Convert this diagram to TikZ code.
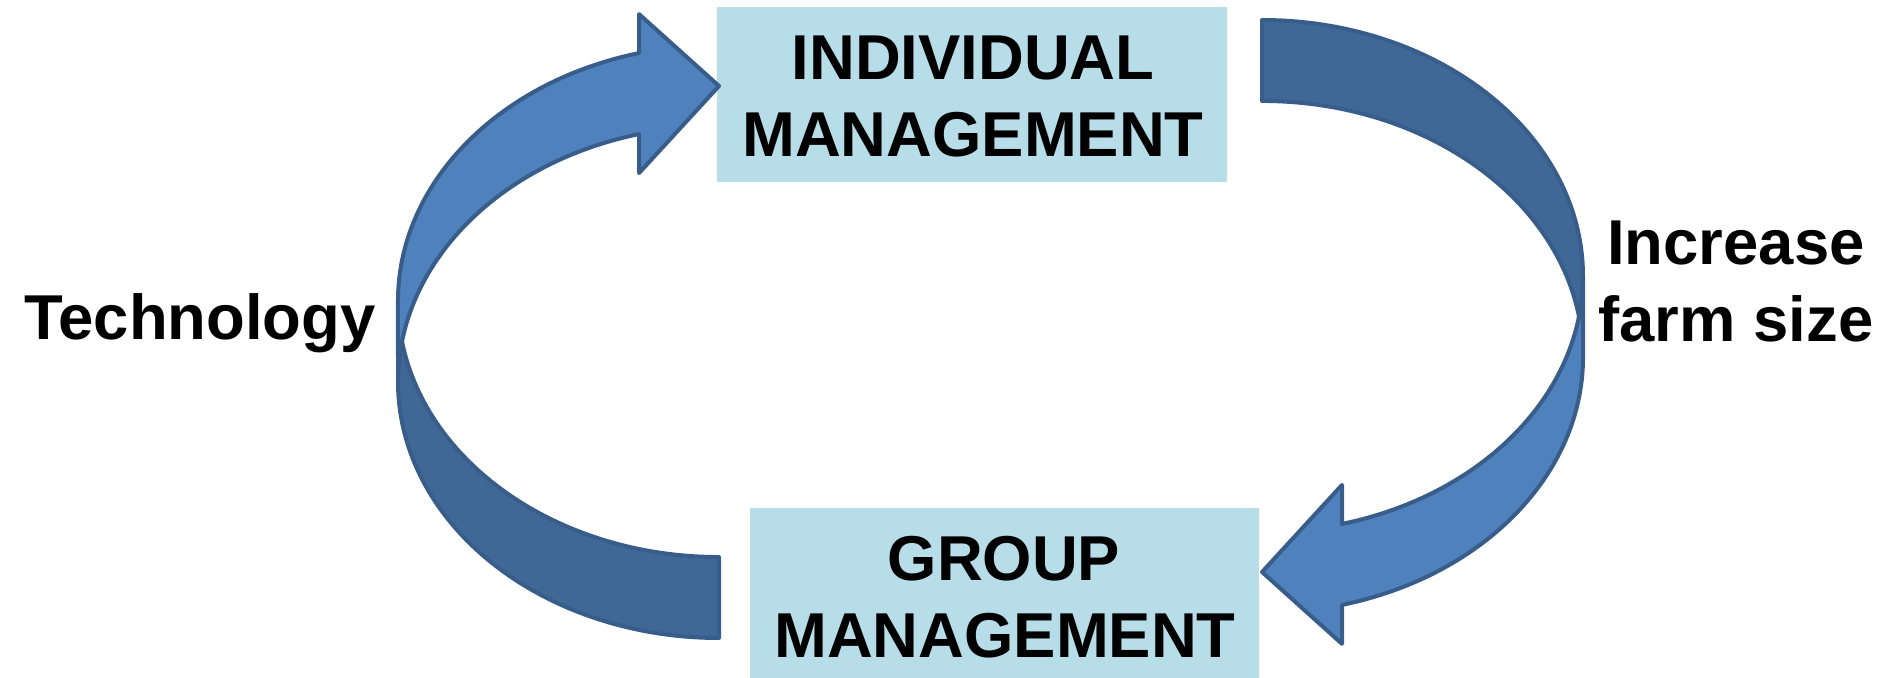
\documentclass[tikz,border=0pt]{standalone}
\usepackage{fontspec}
\setmainfont{Liberation Sans}
\definecolor{boxblue}{HTML}{B7DDE8}
\definecolor{arrowlight}{HTML}{4F81BD}
\definecolor{arrowdark}{HTML}{406896}
\definecolor{arrowline}{HTML}{385D8A}
\begin{document}
\begin{tikzpicture}[x=0.5pt,y=-0.5pt,
  box/.style={fill=boxblue, draw=none, inner sep=0pt},
  boxtext/.style={font=\bfseries\fontsize{31.7pt}{38.5pt}\selectfont, anchor=base, inner sep=0pt},
  labeltext/.style={font=\bfseries\fontsize{31.7pt}{38.5pt}\selectfont, anchor=base, inner sep=0pt},
  outline/.style={draw=arrowline, line width=2pt, line join=round}]
\useasboundingbox (0,0) rectangle (1888,678);
% boxes
\node[box, minimum width=255pt, minimum height=87.5pt] (indbox) at (972,94.5) {};
\node[box, minimum width=254.5pt, minimum height=85pt] (grpbox) at (1004.5,593) {};
% curved arrows
\foreach \r in {0,180}{
\begin{scope}[rotate around={\r:(990.5,329)}]
  \fill[arrowlight] (398,382) arc[start angle=180, end angle=255.57, x radius=321, y radius=256]
     -- (639,173.1) -- (719,86) -- (639,14.1) -- (639,53.1)
     arc[start angle=255.57, end angle=180, x radius=321, y radius=256] -- cycle;
  \fill[arrowdark] (719,638) arc[start angle=90, end angle=189.10, x radius=321, y radius=256]
     arc[start angle=170.90, end angle=90, x radius=321, y radius=256] -- cycle;
  \path[outline] (398,382) arc[start angle=180, end angle=255.57, x radius=321, y radius=256]
     -- (639,173.1) -- (719,86) -- (639,14.1) -- (639,53.1)
     arc[start angle=255.57, end angle=180, x radius=321, y radius=256] -- cycle;
  \path[outline] (719,638) arc[start angle=90, end angle=189.10, x radius=321, y radius=256]
     arc[start angle=170.90, end angle=90, x radius=321, y radius=256] -- cycle;
\end{scope}
}
% texts
\node[boxtext] (ind1) at (973,80) {INDIVIDUAL};
\node[boxtext] (ind2) at (973,157) {MANAGEMENT};
\node[boxtext] (grp1) at (1004,580) {GROUP};
\node[boxtext] (grp2) at (1005,657) {MANAGEMENT};
\node[labeltext] (tech) at (200,340) {Technology};
\node[labeltext] (inc1) at (1736,265) {Increase};
\node[labeltext] (inc2) at (1736,342) {farm size};
\end{tikzpicture}
\end{document}
